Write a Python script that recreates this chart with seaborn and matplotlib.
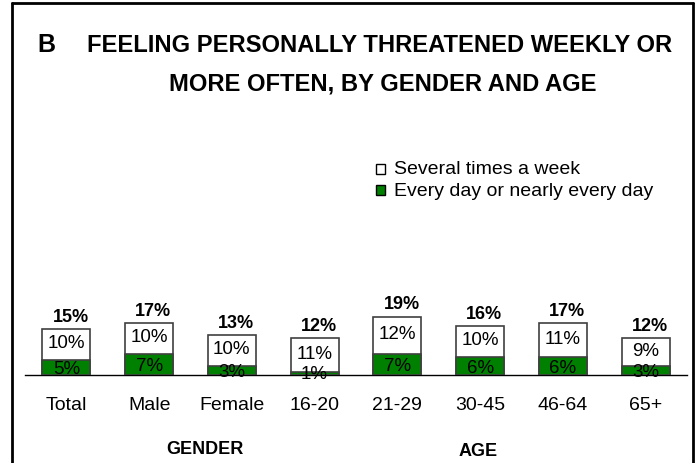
import matplotlib
matplotlib.use("Agg")
import matplotlib.pyplot as plt
import seaborn as sns
import pandas as pd
from matplotlib.lines import Line2D
from matplotlib.patches import Rectangle

categories = ["Total", "Male", "Female", "16-20", "21-29", "30-45", "46-64", "65+"]
total_pct = [15, 17, 13, 12, 19, 16, 17, 12]
several_pct = [10, 10, 10, 11, 12, 10, 11, 9]
daily_pct = [5, 7, 3, 1, 7, 6, 6, 3]

sns.set_style("white")
plt.rcParams["font.family"] = ["Liberation Sans", "DejaVu Sans"]
plt.rcParams["text.color"] = "black"
plt.rcParams["xtick.color"] = "black"
plt.rcParams["xtick.labelcolor"] = "black"

df = pd.DataFrame({"cat": categories, "total": total_pct, "several": several_pct, "daily": daily_pct})

W, H = 697, 464
fig = plt.figure(figsize=(W / 100, H / 100), dpi=100)
ax = fig.add_axes([25 / W, (H - 376) / H, 662 / W, 122 / H])

sns.barplot(data=df, x="cat", y="total", color="white", edgecolor="#404040",
            linewidth=1.2, width=0.58, saturation=1, ax=ax, zorder=2)
sns.barplot(data=df, x="cat", y="daily", color="#008000", edgecolor="#404040",
            linewidth=1.2, width=0.58, saturation=1, ax=ax, zorder=3)

ax.set_xlim(-0.5, 7.5)
ax.set_ylim(0, 40)
for s in ["top", "right", "left"]:
    ax.spines[s].set_visible(False)
ax.spines["bottom"].set_color("black")
ax.spines["bottom"].set_linewidth(1)
ax.set_yticks([])
ax.set_xlabel("")
ax.set_ylabel("")
ax.set_xticks(range(len(categories)))
ax.set_xticklabels(categories, fontsize=14, color="black")
ax.tick_params(axis="x", which="major", length=0, pad=15)
ax.set_xticks([i - 0.5 for i in range(len(categories) + 1)], minor=True)
ax.tick_params(axis="x", which="minor", length=6, width=1, color="black", direction="out")

for i in range(len(categories)):
    t, s, d = total_pct[i], several_pct[i], daily_pct[i]
    ax.text(i + 0.05, t + 1.5, f"{t}%", ha="center", va="bottom", fontsize=13,
            fontweight="bold", zorder=5)
    ax.text(i, d + (t - d) / 2 + 0.6, f"{s}%", ha="center", va="center", fontsize=13.5, zorder=5)
    ax.text(i, max(d / 2, 1.0) - 0.5, f"{d}%", ha="center", va="center", fontsize=13.5, zorder=5)

# Title
fig.text(37 / W, 1 - 45 / H, "B", fontsize=18, fontweight="bold", ha="left", va="center")
fig.text(380 / W, 1 - 45 / H, "FEELING PERSONALLY THREATENED WEEKLY OR", fontsize=17.1,
         fontweight="bold", ha="center", va="center")
fig.text(383 / W, 1 - 84 / H, "MORE OFTEN, BY GENDER AND AGE", fontsize=17.1,
         fontweight="bold", ha="center", va="center")

# Legend
fig.patches.append(Rectangle((376 / W, 1 - 175 / H), 9 / W, 10 / H, transform=fig.transFigure,
                             facecolor="white", edgecolor="black", linewidth=1))
fig.patches.append(Rectangle((376 / W, 1 - 196 / H), 9 / W, 10 / H, transform=fig.transFigure,
                             facecolor="#008000", edgecolor="black", linewidth=1))
fig.text(394 / W, 1 - 170 / H, "Several times a week", fontsize=14, ha="left", va="center")
fig.text(394 / W, 1 - 191 / H, "Every day or nearly every day", fontsize=14, ha="left", va="center")

# Group labels
fig.text(205 / W, 1 - 450 / H, "GENDER", fontsize=13, fontweight="bold", ha="center", va="center")
fig.text(478 / W, 1 - 452 / H, "AGE", fontsize=13, fontweight="bold", ha="center", va="center")

# Frame
lw = 2
fig.add_artist(Line2D([12 / W, 12 / W], [0, 1 - 4 / H], transform=fig.transFigure, color="black", lw=lw))
fig.add_artist(Line2D([12 / W, 693 / W], [1 - 4 / H, 1 - 4 / H], transform=fig.transFigure, color="black", lw=lw))
fig.add_artist(Line2D([693 / W, 693 / W], [0, 1 - 4 / H], transform=fig.transFigure, color="black", lw=lw))

fig.savefig("out.png", dpi=100)
